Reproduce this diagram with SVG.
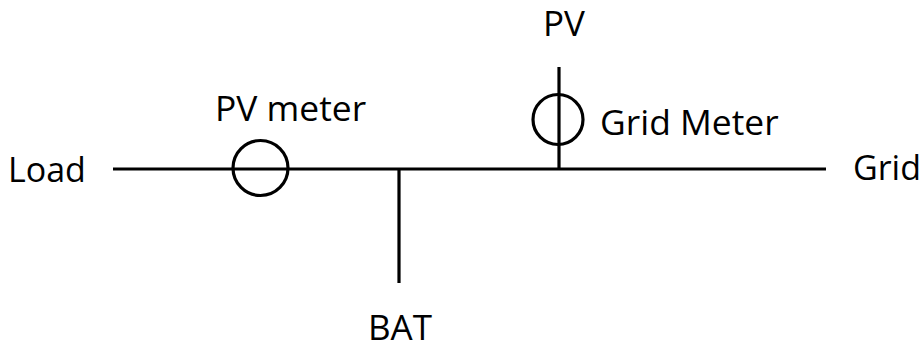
<svg xmlns="http://www.w3.org/2000/svg" width="924" height="345" viewBox="0 0 924 345">
<style>
.w{fill:none;stroke:#000;stroke-width:3.2}
.m{fill:none;stroke:#000;stroke-width:3.2}
text{font-family:"Open Sans","Noto Sans","Liberation Sans",sans-serif;font-size:35px;fill:#000}
.l{font-size:35.4px}
.s{font-size:34px}
</style>
<rect width="924" height="345" fill="#fff"/>
<g id="connectors">
<path class="w" d="M113 169H826"/>
<path class="w" d="M399 169V283"/>
<path class="w" d="M559 67V169"/>
</g>
<g id="load"><text class="s" x="8" y="182">Load</text></g>
<g id="pv-meter"><circle class="m" cx="260.500" cy="168" r="27.500"/><text class="l" x="215" y="121">PV meter</text></g>
<g id="grid-meter"><circle class="m" cx="558" cy="119.500" r="25"/><text class="l" x="600" y="135">Grid Meter</text></g>
<g id="pv"><text x="543" y="36">PV</text></g>
<g id="grid"><text class="s" x="853" y="180">Grid</text></g>
<g id="bat"><text x="368" y="340">BAT</text></g>
</svg>
